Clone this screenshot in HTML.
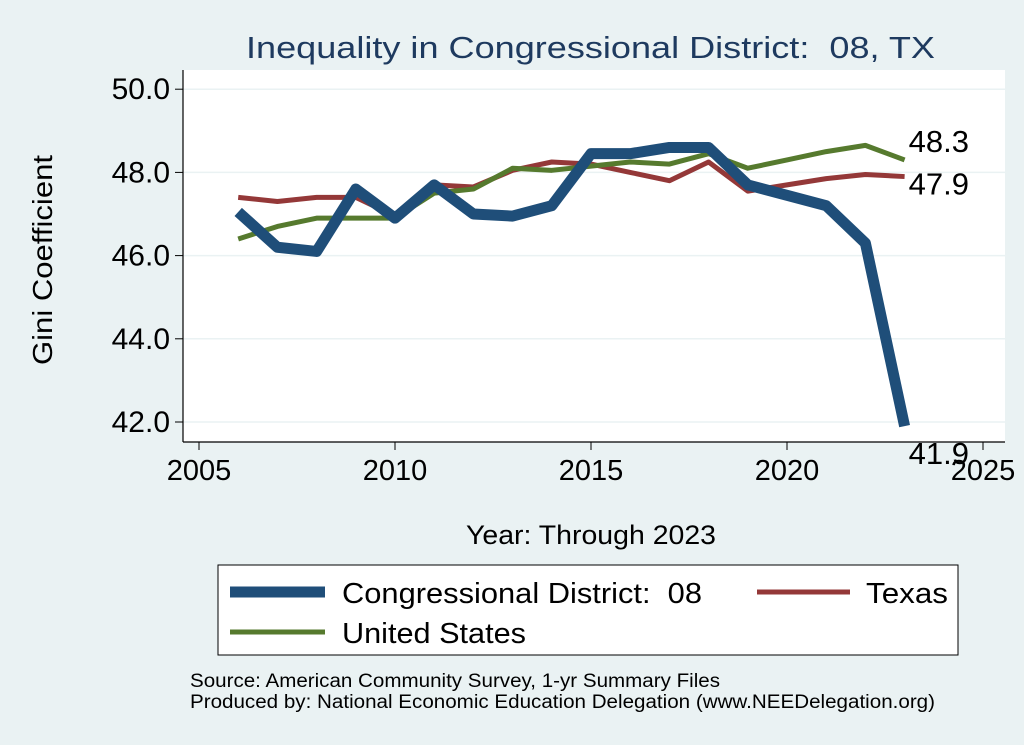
<!DOCTYPE html>
<html><head><meta charset="utf-8"><style>
body{margin:0;background:#eaf2f3;font-family:"Liberation Sans",sans-serif}
svg{display:block}
text{white-space:pre}
</style></head><body>
<svg width="1024" height="745" viewBox="0 0 1024 745">
<rect x="0" y="0" width="1024" height="745" fill="#eaf2f3"/>
<text x="246" y="58" font-size="31" fill="#1e3a5f" textLength="689" lengthAdjust="spacingAndGlyphs">Inequality in Congressional District:  08, TX</text>
<rect x="183" y="70" width="822" height="372" fill="#fff"/>
<g id="grid"></g>
<line x1="183" y1="70" x2="183" y2="442" stroke="#000" stroke-width="1.2"/>
<line x1="183" y1="442" x2="1005" y2="442" stroke="#000" stroke-width="1.2"/>
<g id="ticks"></g>
<g id="series"></g>
<text x="52" y="260" font-size="28" text-anchor="middle" textLength="210" lengthAdjust="spacingAndGlyphs" transform="rotate(-90 52 260)">Gini Coefficient</text>
<text x="466" y="544" font-size="27" textLength="250" lengthAdjust="spacingAndGlyphs">Year: Through 2023</text>
<g>
<rect x="218" y="565" width="740" height="90" fill="#fff" stroke="#000" stroke-width="1"/>
<line x1="230" y1="592" x2="325" y2="592" stroke="#1f4e79" stroke-width="11"/>
<text x="342" y="603" font-size="29" textLength="360" lengthAdjust="spacingAndGlyphs">Congressional District:  08</text>
<line x1="757" y1="592" x2="850" y2="592" stroke="#943838" stroke-width="5"/>
<text x="866" y="603" font-size="29" textLength="82" lengthAdjust="spacingAndGlyphs">Texas</text>
<line x1="230" y1="632" x2="325" y2="632" stroke="#567a2e" stroke-width="5"/>
<text x="342" y="643" font-size="29" textLength="184" lengthAdjust="spacingAndGlyphs">United States</text>
</g>
<text x="190" y="687" font-size="19" textLength="530" lengthAdjust="spacingAndGlyphs">Source: American Community Survey, 1-yr Summary Files</text>
<text x="190" y="708" font-size="19" textLength="745" lengthAdjust="spacingAndGlyphs">Produced by: National Economic Education Delegation (www.NEEDelegation.org)</text>
</svg>
<script>
const years=[2006,2007,2008,2009,2010,2011,2012,2013,2014,2015,2016,2017,2018,2019,2020,2021,2022,2023];
const cd08=[47.05,46.2,46.1,47.6,46.9,47.7,47.0,46.95,47.2,48.45,48.45,48.6,48.6,47.7,47.45,47.2,46.3,41.9];
const texas=[47.4,47.3,47.4,47.4,46.95,47.7,47.65,48.05,48.25,48.2,48.0,47.8,48.25,47.55,47.7,47.85,47.95,47.9];
const us=[46.4,46.7,46.9,46.9,46.9,47.5,47.6,48.1,48.05,48.15,48.25,48.2,48.45,48.1,48.3,48.5,48.65,48.3];
const yTicks=[42,44,46,48,50];
const xTicks=[2005,2010,2015,2020,2025];
const NS="http://www.w3.org/2000/svg";
function xs(v){return 199+(v-2005)*39.2;}
function ys(v){return 422-(v-42)*41.6;}
function mk(t,a,p){const e=document.createElementNS(NS,t);for(const k in a)e.setAttribute(k,a[k]);p.appendChild(e);return e;}
const grid=document.getElementById('grid'),ticks=document.getElementById('ticks'),ser=document.getElementById('series');
yTicks.forEach(v=>{
 const g=mk('line',{x1:183,x2:1005,y1:ys(v),y2:ys(v),stroke:'#eaf2f3','stroke-width':1.5},grid);
 
 
 const t=mk('line',{x1:175,x2:183,y1:ys(v),y2:ys(v),stroke:'#000'},ticks);
 
 
 const l=mk('text',{x:170,y:ys(v)+10,'font-size':30,'text-anchor':'end'},ticks);
 l.textContent=v.toFixed(1);
 
 
});
xTicks.forEach(v=>{
 const t=mk('line',{x1:xs(v),x2:xs(v),y1:442,y2:450,stroke:'#000'},ticks);
 
 
 const l=mk('text',{x:xs(v),y:480,'font-size':29,'text-anchor':'middle'},ticks);
 l.textContent=v;
 
 
});
function line(vals,color,w,name){
 const p=mk('polyline',{points:vals.map((v,i)=>xs(years[i])+','+ys(v)).join(' '),fill:'none',stroke:color,'stroke-width':w,'stroke-linejoin':'round'},ser);
 
 
}
line(texas,'#943838',5,'texas-line');
line(us,'#567a2e',5,'us-line');
line(cd08,'#1f4e79',11,'cd08-line');
function lab(vals,dy,name){
 const n=vals.length-1;
 const t=mk('text',{x:xs(years[n])+4,y:ys(vals[n])+dy,'font-size':31},ser);
 t.textContent=vals[n].toFixed(1);
 
 
}
lab(us,-8,'us-end-label');
lab(texas,18,'texas-end-label');
lab(cd08,38,'cd08-end-label');
</script>
</body></html>
